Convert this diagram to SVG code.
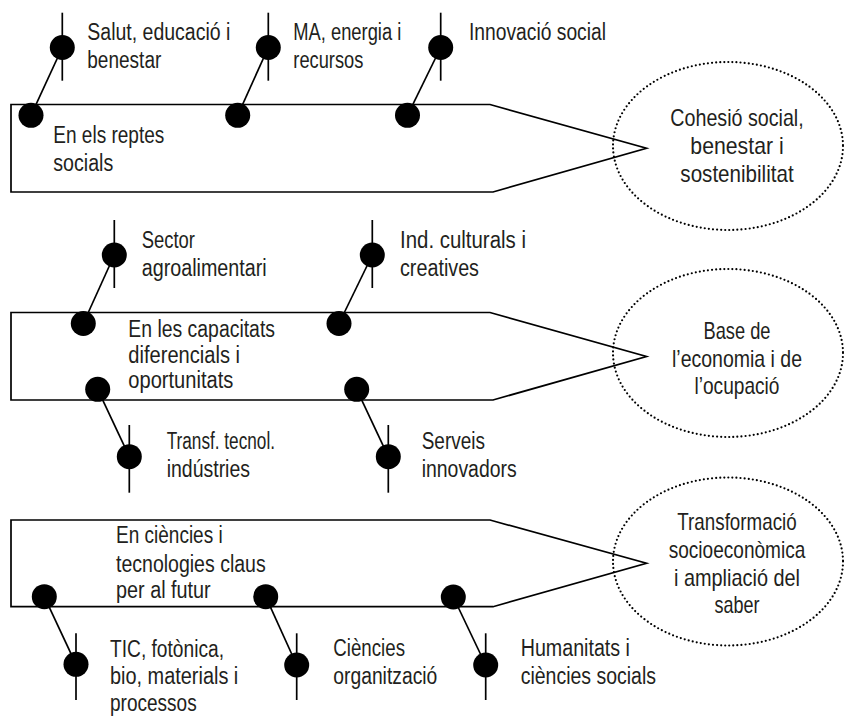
<svg xmlns="http://www.w3.org/2000/svg" width="845" height="716" viewBox="0 0 845 716">
<style>
.shape{fill:none;stroke:#000;stroke-width:1.7;stroke-linejoin:miter}
.ell{fill:none;stroke:#000;stroke-width:2.2;stroke-linecap:round;stroke-dasharray:0 4.1}
.ln{stroke:#000;stroke-width:1.7;fill:none}
.dot{fill:#000}
.t{font-family:"Liberation Sans",Arial,sans-serif;font-size:23px;fill:#231f20}
.te{font-family:"Liberation Sans",Arial,sans-serif;font-size:24px;fill:#231f20;text-anchor:middle}
</style>
<rect width="845" height="716" fill="#fff"/>

<!-- main arrows -->
<g id="arrow1">
<polygon class="shape" points="11,104.5 490,104.5 646.5,148.3 493,192 11,192"/>
<text class="t" x="53.3" y="143.3" textLength="111" lengthAdjust="spacingAndGlyphs">En els reptes</text>
<text class="t" x="53.3" y="171" textLength="60" lengthAdjust="spacingAndGlyphs">socials</text>
</g>
<g id="arrow2">
<polygon class="shape" points="11,312.5 490,312.5 646.5,356.5 493,400 11,400"/>
<text class="t" x="128.3" y="336.7" textLength="146.7" lengthAdjust="spacingAndGlyphs">En les capacitats</text>
<text class="t" x="128.3" y="362.5" textLength="111.7" lengthAdjust="spacingAndGlyphs">diferencials i</text>
<text class="t" x="128.3" y="388.3" textLength="105" lengthAdjust="spacingAndGlyphs">oportunitats</text>
</g>
<g id="arrow3">
<polygon class="shape" points="11,520 490,520 646.5,563.3 493,606.7 11,606.7"/>
<text class="t" x="116" y="543.3" textLength="106.7" lengthAdjust="spacingAndGlyphs">En ciències i</text>
<text class="t" x="116" y="571.5" textLength="149.7" lengthAdjust="spacingAndGlyphs">tecnologies claus</text>
<text class="t" x="116" y="598.3" textLength="94.7" lengthAdjust="spacingAndGlyphs">per al futur</text>
</g>

<!-- goal ellipses -->
<g id="goal1">
<ellipse class="ell" cx="728" cy="146" rx="115" ry="84"/>
<text class="te" x="737" y="126" textLength="133.3" lengthAdjust="spacingAndGlyphs">Cohesió social,</text>
<text class="te" x="737" y="154" textLength="93.3" lengthAdjust="spacingAndGlyphs">benestar i</text>
<text class="te" x="737" y="182" textLength="113.3" lengthAdjust="spacingAndGlyphs">sostenibilitat</text>
</g>
<g id="goal2">
<ellipse class="ell" cx="728" cy="353" rx="115" ry="84"/>
<text class="te" x="737" y="339" textLength="67" lengthAdjust="spacingAndGlyphs">Base de</text>
<text class="te" x="737" y="366.5" textLength="130" lengthAdjust="spacingAndGlyphs">l’economia i de</text>
<text class="te" x="737" y="394" textLength="85" lengthAdjust="spacingAndGlyphs">l’ocupació</text>
</g>
<g id="goal3">
<ellipse class="ell" cx="728" cy="561.5" rx="115" ry="84"/>
<text class="te" x="737" y="530" textLength="119.3" lengthAdjust="spacingAndGlyphs">Transformació</text>
<text class="te" x="737" y="557.5" textLength="136.7" lengthAdjust="spacingAndGlyphs">socioeconòmica</text>
<text class="te" x="737" y="585.5" textLength="126" lengthAdjust="spacingAndGlyphs">i ampliació del</text>
<text class="te" x="737" y="613" textLength="45" lengthAdjust="spacingAndGlyphs">saber</text>
</g>

<!-- connectors -->
<g id="connectors">
<line class="ln" x1="31" y1="115.3" x2="62.3" y2="47.5"/>
<line class="ln" x1="237.7" y1="115.3" x2="268.3" y2="47.5"/>
<line class="ln" x1="407.5" y1="115.3" x2="440.7" y2="47.5"/>
<line class="ln" x1="83.3" y1="323.5" x2="114.3" y2="255"/>
<line class="ln" x1="339" y1="323.5" x2="372.3" y2="255"/>
<line class="ln" x1="97.7" y1="389.3" x2="129.3" y2="456.7"/>
<line class="ln" x1="356.7" y1="389.3" x2="388.3" y2="456.7"/>
<line class="ln" x1="44.3" y1="596.7" x2="76" y2="664.3"/>
<line class="ln" x1="265.7" y1="596.7" x2="296.7" y2="665"/>
<line class="ln" x1="453.3" y1="597" x2="485.7" y2="665"/>
</g>

<!-- anchor dots on arrows -->
<g id="anchors">
<circle class="dot" cx="31" cy="115.3" r="12.5"/>
<circle class="dot" cx="237.7" cy="115.3" r="12.5"/>
<circle class="dot" cx="407.5" cy="115.3" r="12.5"/>
<circle class="dot" cx="83.3" cy="323.5" r="12.5"/>
<circle class="dot" cx="339" cy="323.5" r="12.5"/>
<circle class="dot" cx="97.7" cy="389.3" r="12.5"/>
<circle class="dot" cx="356.7" cy="389.3" r="12.5"/>
<circle class="dot" cx="44.3" cy="596.7" r="12.5"/>
<circle class="dot" cx="265.7" cy="596.7" r="12.5"/>
<circle class="dot" cx="453.3" cy="597" r="12.5"/>
</g>

<!-- labels -->
<g id="salut">
<line class="ln" x1="62.3" y1="12.7" x2="62.3" y2="80.7"/>
<circle class="dot" cx="62.3" cy="47.5" r="12.5"/>
<text class="t" x="87.3" y="40" textLength="143" lengthAdjust="spacingAndGlyphs">Salut, educació i</text>
<text class="t" x="87.3" y="68" textLength="74" lengthAdjust="spacingAndGlyphs">benestar</text>
</g>
<g id="ma">
<line class="ln" x1="268.3" y1="12.7" x2="268.3" y2="80.7"/>
<circle class="dot" cx="268.3" cy="47.5" r="12.5"/>
<text class="t" x="293.3" y="40" textLength="108" lengthAdjust="spacingAndGlyphs">MA, energia i</text>
<text class="t" x="293.3" y="68" textLength="70" lengthAdjust="spacingAndGlyphs">recursos</text>
</g>
<g id="innovacio">
<line class="ln" x1="440.7" y1="12.7" x2="440.7" y2="80.7"/>
<circle class="dot" cx="440.7" cy="47.5" r="12.5"/>
<text class="t" x="469" y="40" textLength="137" lengthAdjust="spacingAndGlyphs">Innovació social</text>
</g>
<g id="sector">
<line class="ln" x1="114.3" y1="220" x2="114.3" y2="288"/>
<circle class="dot" cx="114.3" cy="255" r="12.5"/>
<text class="t" x="141.7" y="248" textLength="53.3" lengthAdjust="spacingAndGlyphs">Sector</text>
<text class="t" x="141.7" y="276" textLength="125" lengthAdjust="spacingAndGlyphs">agroalimentari</text>
</g>
<g id="industries-culturals">
<line class="ln" x1="372.3" y1="220" x2="372.3" y2="288"/>
<circle class="dot" cx="372.3" cy="255" r="12.5"/>
<text class="t" x="400" y="248" textLength="126" lengthAdjust="spacingAndGlyphs">Ind. culturals i</text>
<text class="t" x="400" y="276" textLength="79" lengthAdjust="spacingAndGlyphs">creatives</text>
</g>
<g id="transf">
<line class="ln" x1="129.3" y1="425" x2="129.3" y2="492.7"/>
<circle class="dot" cx="129.3" cy="456.7" r="12.5"/>
<text class="t" x="166.7" y="448.5" textLength="108.3" lengthAdjust="spacingAndGlyphs">Transf. tecnol.</text>
<text class="t" x="166.7" y="476.5" textLength="83.3" lengthAdjust="spacingAndGlyphs">indústries</text>
</g>
<g id="serveis">
<line class="ln" x1="388.3" y1="425" x2="388.3" y2="492.7"/>
<circle class="dot" cx="388.3" cy="456.7" r="12.5"/>
<text class="t" x="421.7" y="448.5" textLength="63.3" lengthAdjust="spacingAndGlyphs">Serveis</text>
<text class="t" x="421.7" y="476.5" textLength="95" lengthAdjust="spacingAndGlyphs">innovadors</text>
</g>
<g id="tic">
<line class="ln" x1="76" y1="633.3" x2="76" y2="700"/>
<circle class="dot" cx="76" cy="664.3" r="12.5"/>
<text class="t" x="110" y="656.5" textLength="114" lengthAdjust="spacingAndGlyphs">TIC, fotònica,</text>
<text class="t" x="110" y="684" textLength="128.3" lengthAdjust="spacingAndGlyphs">bio, materials i</text>
<text class="t" x="110" y="711" textLength="86.7" lengthAdjust="spacingAndGlyphs">processos</text>
</g>
<g id="ciencies-org">
<line class="ln" x1="296.7" y1="633.3" x2="296.7" y2="700"/>
<circle class="dot" cx="296.7" cy="665" r="12.5"/>
<text class="t" x="333.3" y="656" textLength="71.7" lengthAdjust="spacingAndGlyphs">Ciències</text>
<text class="t" x="333.3" y="684" textLength="104" lengthAdjust="spacingAndGlyphs">organització</text>
</g>
<g id="humanitats">
<line class="ln" x1="485.7" y1="633.3" x2="485.7" y2="700"/>
<circle class="dot" cx="485.7" cy="665" r="12.5"/>
<text class="t" x="520.7" y="655.5" textLength="109.3" lengthAdjust="spacingAndGlyphs">Humanitats i</text>
<text class="t" x="520.7" y="683.5" textLength="135.3" lengthAdjust="spacingAndGlyphs">ciències socials</text>
</g>
</svg>
